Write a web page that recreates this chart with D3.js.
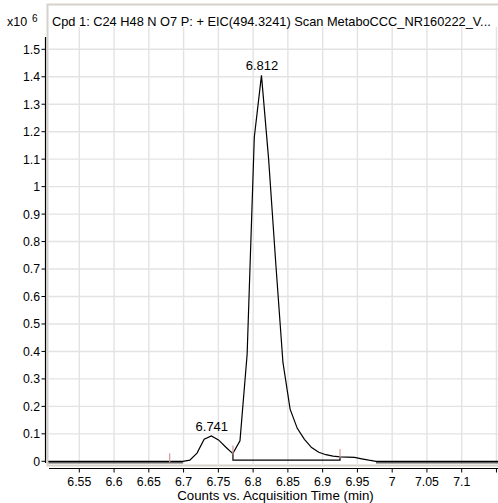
<!DOCTYPE html>
<html><head><meta charset="utf-8">
<script src="https://cdn.jsdelivr.net/npm/d3@7"></script>
<style>
body{margin:0;background:#fff}
svg{display:block;font-family:"Liberation Sans",Arial,sans-serif}
</style>
</head><body>
<svg id="c" width="498" height="503"></svg>
<script>
const titleText = "Cpd 1: C24 H48 N O7 P: + EIC(494.3241) Scan MetaboCCC_NR160222_V...";
const xAxisTitle = "Counts vs. Acquisition Time (min)";
const yScaleLabel = "x10";
const yScaleExp = "6";
const xTicks = [6.55, 6.6, 6.65, 6.7, 6.75, 6.8, 6.85, 6.9, 6.95, 7.0, 7.05, 7.1, 7.15];
const xTickLabels = ["6.55","6.6","6.65","6.7","6.75","6.8","6.85","6.9","6.95","7","7.05","7.1",""];
const yTicks = [0,0.1,0.2,0.3,0.4,0.5,0.6,0.7,0.8,0.9,1.0,1.1,1.2,1.3,1.4,1.5];
const yTickLabels = ["0","0.1","0.2","0.3","0.4","0.5","0.6","0.7","0.8","0.9","1","1.1","1.2","1.3","1.4","1.5"];
// EIC trace (counts x10^6)
const times = [6.500,6.699,6.709,6.7193,6.7296,6.7399,6.7502,6.7605,6.7708,6.7811,6.7914,6.8017,6.812,6.8223,6.8326,6.8429,6.8532,6.8635,6.8738,6.8841,6.8944,6.9047,6.915,6.9253,6.9356,6.9459,6.9562,6.9665,6.9768,7.160];
const counts = [0,0,0.004,0.030,0.080,0.092,0.078,0.052,0.028,0.075,0.39,1.18,1.405,1.10,0.72,0.36,0.19,0.12,0.08,0.05,0.033,0.024,0.019,0.016,0.015,0.014,0.009,0.004,0,0];
const peakTimes = [6.7399, 6.812];
const peakHeights = [0.092, 1.405];
const peakLabels = ["6.741","6.812"];
const markTimes = [6.68, 6.771, 6.925];
const markLevels = [0, 0.028, 0.016];
const integStart = 6.771, integEnd = 6.925, integLevel = 0.004, integStartLevel = 0.028, integEndLevel = 0.016;

const svg = d3.select("#c");
const x = d3.scaleLinear().domain([6.55, 7.1]).range([79.3, 461.7]);
const y = d3.scaleLinear().domain([0, 1.5]).range([461.3, 49.3]);
const plotL = 48.5, plotR = 498, plotT = 27, plotB = 464;

svg.append("clipPath").attr("id","pc").append("rect")
  .attr("x",plotL).attr("y",plotT).attr("width",plotR-plotL).attr("height",plotB-plotT);

// gridlines
const grid = svg.append("g").attr("stroke","#e3e3e3").attr("stroke-width",1.4);
grid.selectAll(".vg").data(xTicks).join("line")
  .attr("x1",d=>x(d)).attr("x2",d=>x(d)).attr("y1",plotT).attr("y2",plotB);
grid.selectAll(".hg").data(yTicks.filter(d=>d>0)).join("line")
  .attr("x1",plotL).attr("x2",plotR).attr("y1",d=>y(d)).attr("y2",d=>y(d));

// frame
svg.append("path").attr("d",`M${plotR+2},4.5 H47.5 V465.5 H${plotR+2}`)
  .attr("fill","none").attr("stroke","#d6d2ca").attr("stroke-width",2);

// title
svg.append("text").attr("x",52).attr("y",26).attr("font-size",12.8).attr("fill","#000").text(titleText);
svg.append("text").attr("x",7).attr("y",26).attr("font-size",12.5).text(yScaleLabel);
svg.append("text").attr("x",32).attr("y",22).attr("font-size",10).text(yScaleExp);

const g = svg.append("g").attr("clip-path","url(#pc)");
// zero-level gray segments
const pts = times.map((t,i)=>[t,counts[i]]);
const zeroSegs = [];
for (let i=0;i<pts.length-1;i++) if (pts[i][1]===0 && pts[i+1][1]===0) zeroSegs.push([pts[i],pts[i+1]]);
g.selectAll(".zs").data(zeroSegs).join("line")
  .attr("x1",d=>x(d[0][0])).attr("x2",d=>x(d[1][0]))
  .attr("y1",y(0)+1).attr("y2",y(0)+1)
  .attr("stroke","#606060").attr("stroke-width",2.2);

const line = d3.line().x(d=>x(d[0])).y(d=>y(d[1]));
g.append("path").datum(pts).attr("d",line).attr("fill","none").attr("stroke","#000").attr("stroke-width",1.2);

// integration baseline
g.append("path").datum([[integStart,integStartLevel],[integStart,integLevel],[integEnd,integLevel],[integEnd,integEndLevel]])
  .attr("d",line).attr("fill","none").attr("stroke","#000").attr("stroke-width",1.2);

// integration marks
g.selectAll(".mk").data(markTimes.map((t,i)=>[t,markLevels[i]])).join("line")
  .attr("x1",d=>x(d[0])).attr("x2",d=>x(d[0]))
  .attr("y1",d=>y(d[1])-8).attr("y2",d=>y(d[1])+1)
  .attr("stroke","#d09a9a").attr("stroke-width",1.2);

// peak labels
svg.selectAll(".pl").data(peakTimes.map((t,i)=>[t,peakHeights[i],peakLabels[i]])).join("text")
  .attr("x",d=>x(d[0])+0.5).attr("y",d=>y(d[1])-5)
  .attr("text-anchor","middle").attr("font-size",13).text(d=>d[2]);

// y axis
const ya = svg.append("g");
ya.append("line").attr("x1",45.5).attr("x2",45.5).attr("y1",37).attr("y2",463).attr("stroke","#000").attr("stroke-width",1.2);
ya.selectAll(".yt").data(yTicks).join("line")
  .attr("x1",41.5).attr("x2",45.5).attr("y1",d=>y(d)).attr("y2",d=>y(d)).attr("stroke","#000");
ya.selectAll(".yl").data(yTicks).join("text")
  .attr("x",40).attr("y",d=>y(d)).attr("dy","0.36em").attr("text-anchor","end")
  .attr("font-size",12.3).text((d,i)=>yTickLabels[i]);

// x axis
const xa = svg.append("g");
xa.append("line").attr("x1",49).attr("x2",498).attr("y1",468.5).attr("y2",468.5).attr("stroke","#000").attr("stroke-width",1.2);
xa.selectAll(".xt").data(xTicks).join("line")
  .attr("x1",d=>x(d)).attr("x2",d=>x(d)).attr("y1",468.5).attr("y2",472.5).attr("stroke","#000");
xa.selectAll(".xl").data(xTicks).join("text")
  .attr("x",d=>x(d)).attr("y",486).attr("text-anchor","middle")
  .attr("font-size",12.3).text((d,i)=>xTickLabels[i]);
svg.append("text").attr("x",275.5).attr("y",500).attr("text-anchor","middle").attr("font-size",13.3).text(xAxisTitle);
</script>
</body></html>
